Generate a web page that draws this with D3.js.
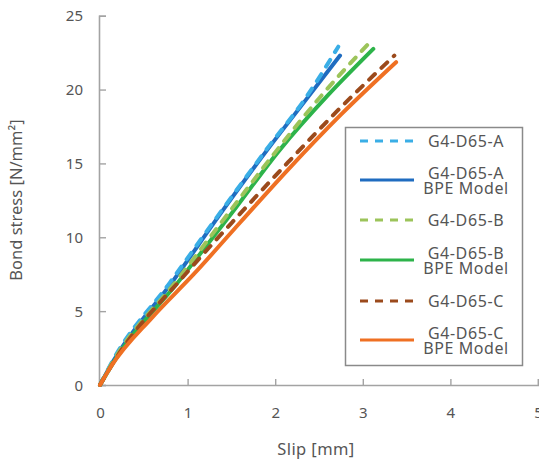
<!DOCTYPE html>
<html>
<head>
<meta charset="utf-8">
<script src="https://cdn.jsdelivr.net/npm/d3@7"></script>
<style>
  html, body { margin: 0; padding: 0; background: #fff; }
  svg { display: block; }
  text { font-family: "Noto Sans", "Open Sans", sans-serif; fill: #555; }
</style>
</head>
<body>
<svg id="chart" width="539" height="460"></svg>
<script>
// ---- Data ----
const xTicks = [0, 1, 2, 3, 4, 5];
const yTicks = [0, 5, 10, 15, 20, 25];
const xTitle = "Slip [mm]";
const yTitle = "Bond stress [N/mm²]";

const seriesNames = ["G4-D65-A", "G4-D65-A\nBPE Model", "G4-D65-B", "G4-D65-B\nBPE Model", "G4-D65-C", "G4-D65-C\nBPE Model"];
const seriesColors = ["#3aaee6", "#1f6cc0", "#9cc45a", "#2db34a", "#9b4a1c", "#ef7023"];
const seriesDashed = [true, false, true, false, true, false];

const slipA_exp   = [0, 0.15, 0.80, 1.40, 1.92, 2.35, 2.72];
const stressA_exp = [0, 1.7, 6.95, 11.9, 16.1, 19.45, 22.9];
const slipA_mod   = [0, 0.15, 0.84, 1.40, 1.92, 2.35, 2.74];
const stressA_mod = [0, 1.6, 7.1, 11.8, 16.0, 19.3, 22.3];
const slipB_exp   = [0, 0.15, 0.88, 1.50, 2.02, 2.50, 3.08];
const stressB_exp = [0, 1.6, 7.1, 11.9, 15.9, 19.4, 23.2];
const slipB_mod   = [0, 0.15, 0.91, 1.50, 2.05, 2.60, 3.12];
const stressB_mod = [0, 1.5, 7.1, 11.6, 15.9, 19.6, 22.75];
const slipC_exp   = [0, 0.15, 0.99, 1.60, 2.15, 2.75, 3.36];
const stressC_exp = [0, 1.5, 7.6, 11.6, 15.1, 18.8, 22.3];
const slipC_mod   = [0, 0.12, 0.60, 1.07, 1.60, 2.15, 2.75, 3.38];
const stressC_mod = [0, 1.2, 4.6, 7.5, 11.0, 14.6, 18.3, 21.85];

const seriesSlip   = [slipA_exp, slipA_mod, slipB_exp, slipB_mod, slipC_exp, slipC_mod];
const seriesStress = [stressA_exp, stressA_mod, stressB_exp, stressB_mod, stressC_exp, stressC_mod];
// drawing order (later = on top)
const drawOrder = [1, 0, 3, 2, 4, 5];

// ---- Chart ----
const svg = d3.select("#chart");
const x = d3.scaleLinear().domain([0, 5]).range([100, 538]);
const y = d3.scaleLinear().domain([0, 25]).range([385, 15.7]);
const axisColor = "#a3a3a3";
const fontFam = "'Noto Sans', 'Open Sans', sans-serif";

// axes
const xAxis = svg.append("g").attr("transform", `translate(0,${y(0)})`)
  .call(d3.axisBottom(x).tickValues(xTicks).tickSize(-6).tickPadding(22).tickFormat(d3.format("d")));
const yAxis = svg.append("g").attr("transform", `translate(${x(0) - 1},0)`)
  .call(d3.axisLeft(y).tickValues(yTicks).tickSize(-7).tickPadding(16).tickFormat(d3.format("d")));
[xAxis, yAxis].forEach(g => {
  g.select(".domain").attr("stroke", axisColor).attr("stroke-width", 1.6);
  g.selectAll(".tick line").attr("stroke", axisColor).attr("stroke-width", 1.4);
  g.selectAll(".tick text").attr("fill", "#555").style("font-size", "15px")
    .style("font-family", fontFam);
});
yAxis.selectAll(".tick text").attr("dy", "0.35em");

// axis titles
svg.append("text").attr("x", 316).attr("y", 455).attr("text-anchor", "middle")
  .style("font-size", "16.5px").style("letter-spacing", "0.4px").text(xTitle);
svg.append("text").attr("transform", "translate(22,200) rotate(-90)").attr("text-anchor", "middle")
  .style("font-size", "16.5px").text(yTitle);

// lines
const line = d3.line().x(d => x(d[0])).y(d => y(d[1])).curve(d3.curveMonotoneX);
drawOrder.forEach(i => {
  const pts = seriesSlip[i].map((s, k) => [s, seriesStress[i][k]]);
  svg.append("path").datum(pts)
    .attr("d", line)
    .attr("fill", "none")
    .attr("stroke", seriesColors[i])
    .attr("stroke-width", 4)
    .attr("stroke-linecap", "round")
    .attr("stroke-dasharray", seriesDashed[i] ? "8,9" : null);
});

// legend
const lg = svg.append("g");
lg.append("rect").attr("x", 345.5).attr("y", 127.5).attr("width", 177).attr("height", 238)
  .attr("fill", "#fff").attr("stroke", "#8a8a8a").attr("stroke-width", 1.5);
const legendY = [141, 180, 220, 260, 301, 340];
seriesNames.forEach((name, i) => {
  const yy = legendY[i];
  lg.append("line").attr("x1", 360).attr("x2", 414).attr("y1", yy).attr("y2", yy)
    .attr("stroke", seriesColors[i]).attr("stroke-width", 3)
    .attr("stroke-dasharray", seriesDashed[i] ? "8,7" : null);
  const lines = name.split("\n");
  const offs = lines.length === 1 ? [5.5] : [-1.5, 14];
  lines.forEach((ln, k) => {
    lg.append("text").attr("text-anchor", "middle")
      .attr("x", 466).attr("y", yy + offs[k])
      .style("font-size", "16px").style("letter-spacing", "0.6px").text(ln);
  });
});
</script>
</body>
</html>
